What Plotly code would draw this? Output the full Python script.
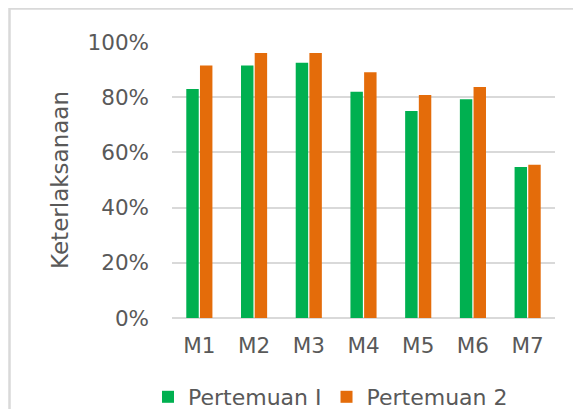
import plotly.graph_objects as go

categories = ["M1", "M2", "M3", "M4", "M5", "M6", "M7"]
pertemuan1 = [0.83, 0.915, 0.925, 0.82, 0.75, 0.793, 0.547]
pertemuan2 = [0.915, 0.96, 0.96, 0.89, 0.808, 0.837, 0.555]
series_names = ["Pertemuan I", "Pertemuan 2"]
y_ticks = [0, 0.2, 0.4, 0.6, 0.8, 1.0]

GREEN = "#00B050"
ORANGE = "#E46C0A"
TXT = "#595959"
GRID = "#D9D9D9"
FONT = "DejaVu Sans"

# page body has an 8px margin, so the figure starts at (8, 8)
OFF = 8
W, H = 581 - OFF, 409 - OFF
L, T = 172 - OFF, 42 - OFF
R = W - (555 - OFF)
B = H - (318 - OFF)
pw, ph = W - L - R, H - T - B

def px_x(x):
    return (x - OFF - L) / pw

def px_y(y):
    return (H - B - (y - OFF)) / ph

fig = go.Figure()
fig.add_trace(go.Bar(x=categories, y=pertemuan1, name=series_names[0],
                     marker=dict(color=GREEN, line=dict(width=0))))
fig.add_trace(go.Bar(x=categories, y=pertemuan2, name=series_names[1],
                     marker=dict(color=ORANGE, line=dict(width=0))))

# outer chart border (left and top edges visible)
fig.add_shape(type="path", xref="paper", yref="paper",
              path=f"M {px_x(9.5)} {px_y(420)} L {px_x(9.5)} {px_y(8.5)} L {px_x(600)} {px_y(8.5)}",
              line=dict(color="#D9D9D9", width=2.5), layer="below")

fig.update_layout(
    width=W, height=H,
    margin=dict(l=L, r=R, t=T, b=B, autoexpand=False),
    paper_bgcolor="white", plot_bgcolor="white",
    barmode="group", bargap=0.5, bargroupgap=0.09,
    font=dict(family=FONT, color=TXT, size=21),
    showlegend=True,
    legend=dict(orientation="h", x=px_x(148), xanchor="left",
                y=px_y(397), yanchor="middle",
                font=dict(family=FONT, size=22, color=TXT),
                itemwidth=30, tracegroupgap=0, bgcolor="rgba(0,0,0,0)"),
    xaxis=dict(showgrid=False, showline=False, zeroline=False,
               ticks="", tickfont=dict(size=21.5, color=TXT),
               ticklabelstandoff=12),
    yaxis=dict(range=[0, 1], tickvals=y_ticks, tickformat=".0%",
               showgrid=True, gridcolor=GRID, gridwidth=1.5,
               zeroline=True, zerolinecolor=GRID, zerolinewidth=1.5,
               showline=False, ticks="",
               tickfont=dict(size=21.5, color=TXT),
               ticklabelstandoff=22,
               title=dict(text="Keterlaksanaan", font=dict(size=23, color=TXT),
                          standoff=12)),
)

fig.write_html("out.html")
